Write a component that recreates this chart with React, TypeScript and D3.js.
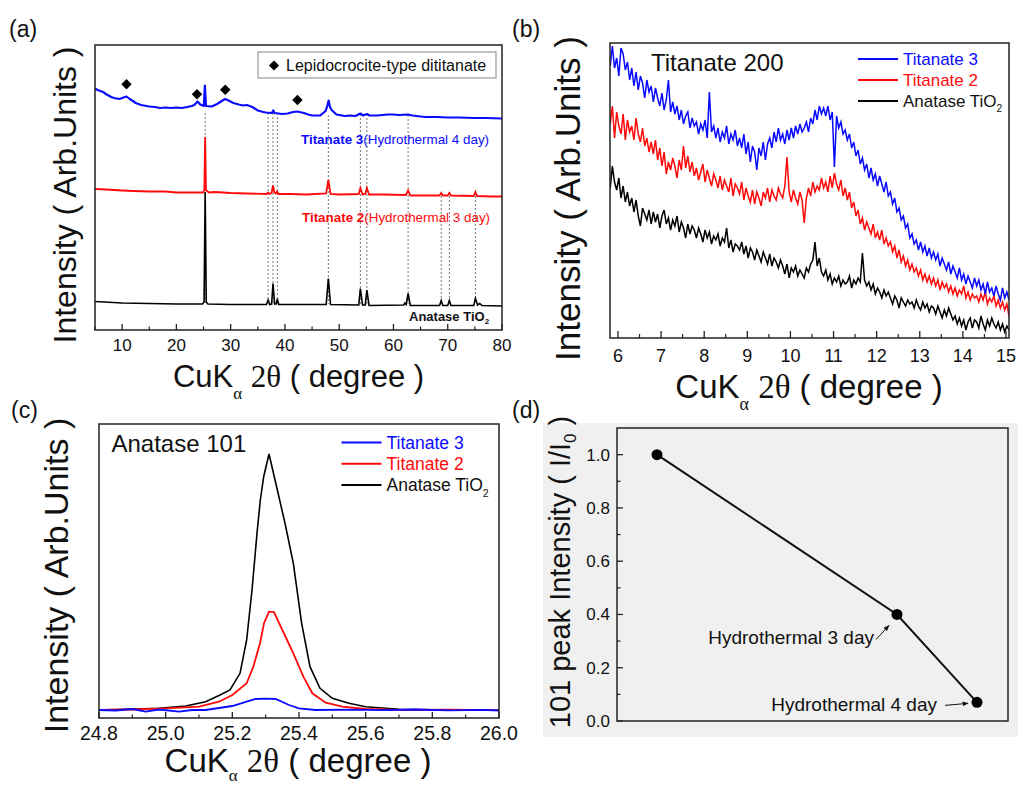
import React from 'react';
import * as d3 from 'd3';

const SANS = '"Liberation Sans", Arial, Helvetica, sans-serif';
const SERIF = '"Liberation Serif", "Times New Roman", serif';
const BLUE = '#0a0aff';
const RED = '#ff0a0a';

// ---------------- Panel (a): wide-angle XRD ----------------
const aTicks = [10, 20, 30, 40, 50, 60, 70, 80];
const aMinor = [5, 15, 25, 35, 45, 55, 65, 75];
const aBlue: [number, number][] = [
  [5, 241.5], [5.5, 240], [6, 239], [6.5, 238], [7, 236], [7.5, 234.5], [8, 233], [8.5, 232], [9, 231.5], [9.5, 231], [10, 232], [10.8, 233.5], [11.4, 231], [12, 229], [12.5, 227], [13, 226], [13.5, 225], [14, 224.5], [15, 223.5], [16, 223], [17, 222], [18, 222.5], [19, 222], [20, 222.5], [21, 222], [22, 223], [22.8, 224], [23.3, 225], [23.9, 228.5], [24.4, 225.5], [25.05, 224], [25.25, 244.5], [25.45, 224],
  [26.5, 223.5], [27.5, 226], [28.5, 229.5], [29.0, 231], [29.6, 229.5], [30.5, 227], [31.5, 225.5], [32.3, 224.5], [33, 225], [34, 223], [35, 219.5], [36, 218], [36.5, 217.5], [37.6, 217], [37.85, 219.5], [38.1, 217], [39.5, 216], [40.5, 216.5], [41.5, 218], [42.3, 218.5], [43.5, 217], [44.3, 215.5], [45, 214.5], [46.5, 214.5], [47.5, 219], [47.8, 224], [48.05, 229.5], [48.3, 223],
  [48.6, 220], [49.5, 215.5], [51, 214], [52, 214.5], [53, 214], [53.9, 216.5], [54.4, 214.5], [55.1, 216], [55.6, 214.5], [57, 214.5], [58, 215], [59, 215.5], [60, 215.5], [61, 215], [62.7, 215.5], [63.5, 214.5], [65, 213.5], [66, 213], [68, 213], [70, 212.5], [72, 212.5], [75, 212], [77, 212], [80, 211.5]
];
const aRed: [number, number][] = [
  [5, 141], [7, 140.5], [10, 139.5], [12, 139], [15, 138.5], [18, 138.5], [20, 137.5], [22, 137.5], [24.9, 137.5], [25.15, 140], [25.3, 193], [25.45, 140], [26, 137.5], [27, 138], [28.6, 137.5], [30, 137], [33, 136.5], [36.6, 136], [36.9, 137.5], [37.2, 136], [37.55, 137], [37.8, 144.5], [38.05, 137.5], [38.3, 136.5], [38.55, 138.5], [38.8, 136],
  [41, 136], [44, 135.5], [47.6, 136.5], [48.0, 150], [48.4, 136], [50, 135.5], [53.6, 136], [53.9, 142], [54.3, 135.5], [54.8, 136], [55.1, 142], [55.5, 135.5], [58, 135.5], [62.3, 135], [62.7, 139.5], [63.1, 134.5], [66, 134.5], [68.5, 134.5], [68.8, 137], [69.1, 134.5], [70.0, 134.5], [70.3, 137], [70.6, 134.5], [74.8, 134], [75.1, 138], [75.4, 134], [78, 133.5], [80, 133.5]
];
const aBlack: [number, number][] = [
  [5, 28.5], [10, 27], [15, 26.5], [20, 26], [24.8, 26], [25.1, 28], [25.3, 138], [25.5, 28], [25.8, 26], [30, 25.5], [36.6, 25.5], [36.9, 30], [37.2, 25.5], [37.55, 26], [37.8, 46.5], [38.1, 26], [38.4, 26], [38.6, 31], [38.85, 25.5], [47.6, 25.5], [48.0, 51.5], [48.4, 25.5],
  [53.6, 25], [53.9, 41.5], [54.3, 25], [54.8, 25], [55.1, 40], [55.5, 24.5], [61.9, 25], [62.1, 27], [62.35, 25.5], [62.7, 36.5], [63.1, 24.5], [68.5, 24.5], [68.8, 29.5], [69.1, 24.5], [70.0, 24.5], [70.3, 29.5], [70.6, 24.5], [74.8, 24.5], [75.1, 31.5], [75.5, 25], [75.9, 26.5], [76.3, 24.5], [80, 24]
];
const aRefPeaks = [25.3, 36.9, 37.8, 38.6, 48.0, 53.9, 55.1, 62.7, 68.8, 70.3, 75.1];
const aRefTop = [217, 217, 217, 217, 215, 216, 216, 215, 134, 134, 134];
const aDiamonds: [number, number][] = [[10.8, 245.7], [23.8, 235.7], [29.0, 240.3], [42.3, 230]];

// ---------------- Panel (b): Titanate 200 ----------------
const bStart = 5.82;
const bStep = 0.05;
const bTicks = [6, 7, 8, 9, 10, 11, 12, 13, 14, 15];
const bMinor = [6.5, 7.5, 8.5, 9.5, 10.5, 11.5, 12.5, 13.5, 14.5];
const bBlue = [
  272, 292, 270, 280, 262, 290, 284, 268, 276, 258,
  270, 252, 266, 248, 262, 255, 240, 258, 246, 252,
  236, 250, 240, 232, 245, 228, 238, 258, 226, 236,
  224, 232, 218, 228, 214, 222, 226, 210, 220, 212,
  216, 204, 214, 208, 218, 200, 246, 206, 212, 200,
  210, 196, 206, 200, 212, 194, 204, 198, 208, 192,
  200, 190, 204, 184, 196, 176, 192, 186, 168, 190,
  182, 196, 178, 194, 200, 190, 206, 196, 210, 198,
  204, 194, 208, 198, 210, 200, 212, 204, 214, 206,
  210, 216, 206, 220, 214, 228, 218, 232, 224, 230,
  222, 232, 218, 226, 171, 222, 210, 216, 204, 208,
  198, 204, 190, 196, 182, 188, 174, 180, 168, 174,
  160, 170, 158, 164, 152, 162, 154, 146, 156, 142,
  146, 134, 140, 126, 130, 118, 122, 110, 114, 100,
  104, 94, 98, 88, 96, 86, 92, 82, 90, 80,
  86, 78, 84, 72, 80, 74, 68, 76, 64, 72,
  66, 60, 70, 58, 64, 54, 62, 56, 50, 60,
  52, 58, 48, 54, 44, 56, 46, 50, 42, 52,
  44, 38, 50, 40, 46, 38
];
const bRed = [
  214, 232, 200, 226, 212, 204, 224, 198, 218, 206,
  212, 198, 220, 204, 196, 210, 192, 200, 186, 196,
  184, 198, 178, 190, 172, 186, 164, 176, 168, 180,
  172, 160, 178, 168, 192, 170, 182, 166, 176, 162,
  170, 158, 166, 174, 156, 168, 160, 152, 164, 158,
  150, 162, 148, 158, 152, 146, 160, 142, 154, 150,
  144, 156, 138, 150, 142, 136, 148, 134, 146, 140,
  132, 146, 140, 150, 136, 148, 142, 138, 150, 144,
  140, 152, 181, 146, 136, 148, 140, 134, 146, 138,
  115, 140, 150, 142, 156, 146, 152, 148, 160, 150,
  156, 146, 162, 150, 165, 154, 148, 158, 142, 150,
  138, 146, 130, 136, 122, 128, 114, 120, 108, 116,
  110, 104, 114, 100, 106, 98, 108, 94, 100, 92,
  96, 86, 92, 80, 88, 76, 82, 72, 78, 68,
  74, 66, 70, 62, 68, 58, 64, 56, 62, 54,
  60, 52, 58, 48, 56, 50, 54, 46, 52, 44,
  50, 42, 48, 44, 52, 40, 46, 38, 44, 40,
  42, 36, 44, 38, 46, 34, 40, 36, 42, 32,
  38, 30, 36, 28, 34, 22
];
const bBlack = [
  150, 172, 156, 148, 160, 140, 152, 136, 146, 132,
  140, 126, 138, 122, 112, 130, 124, 118, 128, 114,
  126, 116, 124, 110, 122, 128, 114, 120, 108, 118,
  112, 122, 106, 116, 110, 100, 114, 104, 112, 108,
  100, 110, 104, 96, 108, 100, 106, 94, 102, 98,
  104, 92, 100, 96, 110, 90, 98, 86, 94, 92,
  88, 96, 84, 92, 80, 90, 86, 78, 88, 82,
  76, 86, 80, 74, 84, 72, 80, 76, 70, 78,
  72, 64, 74, 60, 70, 66, 72, 62, 68, 64,
  60, 70, 66, 74, 78, 96, 72, 80, 66, 62,
  68, 58, 64, 54, 60, 56, 62, 52, 58, 54,
  56, 62, 50, 58, 54, 60, 56, 85, 58, 52,
  56, 48, 54, 44, 50, 46, 40, 48, 42, 46,
  40, 34, 42, 38, 30, 40, 36, 32, 38, 34,
  36, 30, 38, 32, 28, 36, 30, 34, 26, 32,
  30, 24, 32, 26, 20, 28, 22, 30, 24, 18,
  22, 14, 20, 12, 18, 8, 16, 20, 10, 18,
  16, 10, 22, 14, 8, 18, 12, 20, 14, 10,
  16, 8, 14, 6, 12, 8
];

// ---------------- Panel (c): Anatase 101 ----------------
const cTicks = [24.8, 25.0, 25.2, 25.4, 25.6, 25.8, 26.0];
const cMinor = [24.9, 25.1, 25.3, 25.5, 25.7, 25.9];
const cBlack: [number, number][] = [
  [24.8, 8], [24.98, 9.7], [25.06, 12], [25.12, 16.3], [25.163, 23], [25.193, 28], [25.223, 44.7], [25.243, 78], [25.259, 128], [25.274, 184.7], [25.284, 218], [25.294, 241.3], [25.31, 264],
  [25.333, 231], [25.358, 194.7], [25.383, 154.7], [25.408, 94.7], [25.433, 51.3], [25.463, 29.7], [25.5, 19.7], [25.55, 14.7], [25.6, 11.3], [25.7, 8.7], [25.8, 8.3], [25.9, 8], [26.0, 7.8]
];
const cRed: [number, number][] = [
  [24.8, 8], [24.9, 8.5], [25.0, 9.7], [25.1, 11.3], [25.16, 16.3], [25.2, 23], [25.243, 34.7], [25.263, 51.3], [25.283, 74.7], [25.295, 94.7], [25.31, 106.3], [25.325, 106],
  [25.35, 88], [25.383, 64.7], [25.413, 41.3], [25.44, 24.7], [25.48, 15.3], [25.53, 11.3], [25.6, 9], [25.7, 8], [25.85, 8.3], [26.0, 7.8]
];
const cBlue: [number, number][] = [
  [24.8, 8], [24.85, 7.5], [24.9, 9], [24.94, 6.3], [24.98, 8.5], [25.04, 6.3], [25.08, 8], [25.12, 8], [25.2, 12], [25.243, 16.3], [25.27, 19], [25.3, 19.3], [25.33, 19],
  [25.37, 13], [25.4, 9.7], [25.45, 8], [25.55, 8.3], [25.65, 7.8], [25.75, 8.5], [25.85, 7.6], [25.95, 8.2], [26.0, 7.5]
];

// ---------------- Panel (d): 101 peak ratio ----------------
const dDays = [0, 3, 4];
const dRatio = [1.0, 0.4, 0.07];
const dLabels = ['', 'Hydrothermal 3 day', 'Hydrothermal 4 day'];
const dTicks = [0, 0.2, 0.4, 0.6, 0.8, 1.0];
const dMinor = [0.1, 0.3, 0.5, 0.7, 0.9];

type Box = { x0: number; x1: number; y0: number; y1: number };

function XTitle({ cx, y, size, subSize, subDy }: { cx: number; y: number; size: number; subSize: number; subDy: number }) {
  return (
    <text x={cx} y={y} textAnchor="middle" fontFamily={SANS} fontSize={size} fill="#111">
      CuK
      <tspan fontFamily={SERIF} fontSize={subSize} dy={subDy}>α</tspan>
      <tspan dy={-subDy}> </tspan>
      <tspan fontFamily={SERIF}>2θ</tspan>
      <tspan> ( degree )</tspan>
    </text>
  );
}

function YTitle({ x, cy, size }: { x: number; cy: number; size: number }) {
  return (
    <text transform={`translate(${x},${cy}) rotate(-90)`} textAnchor="middle" fontFamily={SANS} fontSize={size} fill="#111">
      Intensity ( Arb.Units )
    </text>
  );
}

function Frame({ b }: { b: Box }) {
  return <rect x={b.x0} y={b.y0} width={b.x1 - b.x0} height={b.y1 - b.y0} fill="none" stroke="#222" strokeWidth={1.5} />;
}

function BottomTicks({ b, xs, major, minor, fmt, size, labelY, majLen = 6, minLen = 3.5 }: any) {
  return (
    <g>
      {major.map((t: number) => (
        <g key={'M' + t}>
          <line x1={xs(t)} x2={xs(t)} y1={b.y1} y2={b.y1 - majLen} stroke="#222" strokeWidth={1.3} />
          <text x={xs(t)} y={labelY} textAnchor="middle" fontFamily={SANS} fontSize={size} fill="#111">{fmt(t)}</text>
        </g>
      ))}
      {minor.map((t: number) => (
        <line key={'m' + t} x1={xs(t)} x2={xs(t)} y1={b.y1} y2={b.y1 - minLen} stroke="#222" strokeWidth={1.2} />
      ))}
    </g>
  );
}

function LegendRows({ x, y, gap, size }: { x: number; y: number; gap: number; size: number }) {
  const rows = [
    { c: BLUE, t: 'Titanate 3', sub: false },
    { c: RED, t: 'Titanate 2', sub: false },
    { c: '#000', t: 'Anatase TiO', sub: true },
  ];
  return (
    <g>
      {rows.map((r, i) => (
        <g key={i}>
          <line x1={x} x2={x + 40} y1={y + i * gap} y2={y + i * gap} stroke={r.c} strokeWidth={2} />
          <text x={x + 45} y={y + i * gap + size * 0.36} fontFamily={SANS} fontSize={size} fill={r.c === '#000' ? '#111' : r.c}>
            {r.t}
            {r.sub && <tspan fontSize={size * 0.6} dy={size * 0.3}>2</tspan>}
          </text>
        </g>
      ))}
    </g>
  );
}

export default function App() {
  // ---- Panel A
  const A: Box = { x0: 95, x1: 502, y0: 45, y1: 330 };
  const xA = d3.scaleLinear().domain([5, 80]).range([A.x0, A.x1]);
  const yA = d3.scaleLinear().domain([0, 285]).range([A.y1, A.y0]);
  const lineA = d3.line<[number, number]>().x(d => xA(d[0])).y(d => yA(d[1]));
  const diamond = d3.symbol().type(d3.symbolDiamond2).size(70)();
  const diamondSmall = d3.symbol().type(d3.symbolDiamond2).size(66)();

  // ---- Panel B
  const B: Box = { x0: 610, x1: 1009, y0: 43, y1: 338 };
  const xB = d3.scaleLinear().domain([5.815, 15.07]).range([B.x0, B.x1]);
  const yB = d3.scaleLinear().domain([0, 295]).range([B.y1, B.y0]);
  const lineB = d3.line<number>().x((_, i) => xB(bStart + i * bStep)).y(v => yB(v));

  // ---- Panel C
  const C: Box = { x0: 99, x1: 499, y0: 424, y1: 718 };
  const xC = d3.scaleLinear().domain([24.8, 26.0]).range([C.x0, C.x1]);
  const yC = d3.scaleLinear().domain([0, 294]).range([C.y1, C.y0]);
  const lineC = d3.line<[number, number]>().x(d => xC(d[0])).y(d => yC(d[1]));

  // ---- Panel D
  const D: Box = { x0: 617, x1: 1008, y0: 428, y1: 721 };
  const xD = d3.scaleLinear().domain([-0.5, 4.3875]).range([D.x0, D.x1]);
  const yD = d3.scaleLinear().domain([0, 1.1]).range([D.y1, D.y0]);
  const dPts = dDays.map((d, i) => [d, dRatio[i]] as [number, number]);
  const lineD = d3.line<[number, number]>().x(d => xD(d[0])).y(d => yD(d[1]));

  return (
    <svg width={1022} height={787} style={{ position: 'absolute', left: 0, top: 0, display: 'block', background: '#fff' }}>
      <defs>
        <clipPath id="clipA"><rect x={A.x0} y={A.y0} width={A.x1 - A.x0} height={A.y1 - A.y0} /></clipPath>
        <clipPath id="clipB"><rect x={B.x0} y={B.y0} width={B.x1 - B.x0} height={B.y1 - B.y0} /></clipPath>
        <clipPath id="clipC"><rect x={C.x0} y={C.y0} width={C.x1 - C.x0} height={C.y1 - C.y0} /></clipPath>
        <marker id="arr" viewBox="0 0 10 10" refX="9" refY="5" markerWidth="6" markerHeight="6" orient="auto">
          <path d="M0,1 L10,5 L0,9 z" fill="#111" />
        </marker>
      </defs>
      <rect x={0} y={0} width={1022} height={787} fill="#fff" />

      {/* ================= Panel A ================= */}
      <text x={9} y={37} fontFamily={SANS} fontSize={23} fill="#111">(a)</text>
      <g clipPath="url(#clipA)">
        {aRefPeaks.map((p, i) => (
          <line key={i} x1={xA(p)} x2={xA(p)} y1={yA(aRefTop[i])} y2={yA(26)} stroke="#777" strokeWidth={1} strokeDasharray="2,2" />
        ))}
        <path d={lineA(aBlack) || ''} fill="none" stroke="#000" strokeWidth={1.6} />
        <path d={lineA(aRed) || ''} fill="none" stroke={RED} strokeWidth={1.8} />
        <path d={lineA(aBlue) || ''} fill="none" stroke={BLUE} strokeWidth={2.2} strokeLinejoin="round" />
        {aDiamonds.map((d, i) => (
          <path key={i} d={diamond || ''} transform={`translate(${xA(d[0])},${yA(d[1])})`} fill="#000" />
        ))}
      </g>
      <rect x={258} y={52} width={238} height={26} fill="#fff" stroke="#999" strokeWidth={1.2} />
      <path d={diamondSmall || ''} transform="translate(274,65.5)" fill="#000" />
      <text x={286} y={71} fontFamily={SANS} fontSize={16} fill="#111">Lepidocrocite-type dititanate</text>
      <text x={301} y={143.5} fontFamily={SANS} fontSize={13.4} fill={BLUE}>
        <tspan fontWeight="bold">Titanate 3</tspan>(Hydrothermal 4 day)
      </text>
      <text x={302} y={222} fontFamily={SANS} fontSize={13.4} fill={RED}>
        <tspan fontWeight="bold">Titanate 2</tspan>(Hydrothermal 3 day)
      </text>
      <text x={409} y={320.5} fontFamily={SANS} fontSize={13} fontWeight="bold" fill="#111">
        Anatase TiO<tspan fontSize={8} dy={3}>2</tspan>
      </text>
      <Frame b={A} />
      <BottomTicks b={A} xs={xA} major={aTicks} minor={aMinor} fmt={(t: number) => String(t)} size={17} labelY={351} />
      <XTitle cx={298.5} y={387} size={31} subSize={17} subDy={12} />
      <YTitle x={76} cy={195} size={32} />

      {/* ================= Panel B ================= */}
      <text x={512} y={37} fontFamily={SANS} fontSize={23} fill="#111">(b)</text>
      <g clipPath="url(#clipB)">
        <path d={lineB(bBlack) || ''} fill="none" stroke="#000" strokeWidth={1.5} />
        <path d={lineB(bRed) || ''} fill="none" stroke={RED} strokeWidth={1.5} />
        <path d={lineB(bBlue) || ''} fill="none" stroke={BLUE} strokeWidth={1.5} />
      </g>
      <text x={651} y={71} fontFamily={SANS} fontSize={24} fill="#111">Titanate 200</text>
      <LegendRows x={858} y={59} gap={21} size={17} />
      <Frame b={B} />
      <BottomTicks b={B} xs={xB} major={bTicks} minor={bMinor} fmt={(t: number) => String(t)} size={18} labelY={361.5} majLen={7} minLen={4} />
      <XTitle cx={809} y={398} size={33} subSize={18} subDy={12} />
      <YTitle x={580} cy={198.5} size={35} />

      {/* ================= Panel C ================= */}
      <text x={11} y={418} fontFamily={SANS} fontSize={23} fill="#111">(c)</text>
      <g clipPath="url(#clipC)">
        <path d={lineC(cBlack) || ''} fill="none" stroke="#000" strokeWidth={1.6} />
        <path d={lineC(cRed) || ''} fill="none" stroke={RED} strokeWidth={1.8} />
        <path d={lineC(cBlue) || ''} fill="none" stroke={BLUE} strokeWidth={1.8} />
      </g>
      <text x={111.5} y={452} fontFamily={SANS} fontSize={24} fill="#111">Anatase 101</text>
      <LegendRows x={341.5} y={442.5} gap={21.3} size={17.5} />
      <Frame b={C} />
      <BottomTicks b={C} xs={xC} major={cTicks} minor={cMinor} fmt={(t: number) => t.toFixed(1)} size={19.5} labelY={740} />
      <XTitle cx={298} y={772} size={33} subSize={17} subDy={9} />
      <YTitle x={68} cy={575.5} size={34} />

      {/* ================= Panel D ================= */}
      <rect x={543} y={423} width={475} height={314} fill="#f0f0f0" />
      <text x={512} y={418} fontFamily={SANS} fontSize={23} fill="#111">(d)</text>
      <Frame b={D} />
      {dTicks.map(t => (
        <g key={'dy' + t}>
          <line x1={D.x0} x2={D.x0 + 6} y1={yD(t)} y2={yD(t)} stroke="#222" strokeWidth={1.3} />
          <text x={D.x0 - 7} y={yD(t) + 6} textAnchor="end" fontFamily={SANS} fontSize={17} fill="#111">{t.toFixed(1)}</text>
        </g>
      ))}
      {dMinor.map(t => (
        <line key={'dm' + t} x1={D.x0} x2={D.x0 + 3.5} y1={yD(t)} y2={yD(t)} stroke="#222" strokeWidth={1.2} />
      ))}
      <path d={lineD(dPts) || ''} fill="none" stroke="#111" strokeWidth={2} />
      {dPts.map((p, i) => (
        <circle key={i} cx={xD(p[0])} cy={yD(p[1])} r={5.5} fill="#000" />
      ))}
      {/* annotations */}
      <text x={xD(dDays[1]) - 23} y={yD(dRatio[1]) + 30} textAnchor="end" fontFamily={SANS} fontSize={19} fill="#111">{dLabels[1]}</text>
      <line x1={xD(dDays[1]) - 21} y1={yD(dRatio[1]) + 25} x2={xD(dDays[1]) - 8} y2={yD(dRatio[1]) + 11} stroke="#111" strokeWidth={1} markerEnd="url(#arr)" />
      <text x={xD(dDays[2]) - 40} y={yD(dRatio[2]) + 8.5} textAnchor="end" fontFamily={SANS} fontSize={19} fill="#111">{dLabels[2]}</text>
      <line x1={xD(dDays[2]) - 32} y1={yD(dRatio[2]) + 3} x2={xD(dDays[2]) - 9} y2={yD(dRatio[2]) + 1} stroke="#111" strokeWidth={1} markerEnd="url(#arr)" />
      <text transform={`translate(570,572) rotate(-90)`} textAnchor="middle" fontFamily={SANS} fontSize={29} fill="#111">
        101 peak Intensity ( I/I<tspan fontSize={17} dy={6}>0</tspan><tspan dy={-6}> )</tspan>
      </text>
    </svg>
  );
}
